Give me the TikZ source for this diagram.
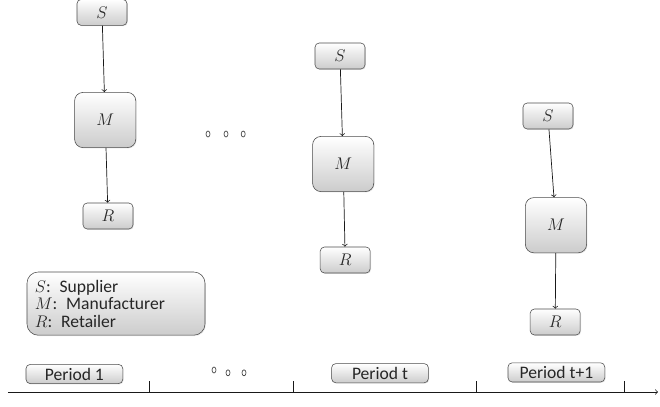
\documentclass[tikz,border=0pt]{standalone}
\usepackage{fontspec}
\setmainfont{Carlito}
\usetikzlibrary{shadows}

\begin{document}
\begin{tikzpicture}[
    box/.style={draw=gray!60!black, rounded corners=3pt, top color=white, bottom color=gray!40,
        drop shadow={opacity=0.2, shadow xshift=0.6pt, shadow yshift=-0.6pt},
        inner sep=0pt, text=black!85, font=\fontsize{12.5}{12.4}\selectfont},
    smallbox/.style={box, minimum width=1.25cm, minimum height=0.65cm},
    bigbox/.style={box, rounded corners=6pt, minimum width=1.53cm, minimum height=1.38cm},
    periodbox/.style={box, minimum width=2.42cm, minimum height=0.48cm},
    supply/.style={->, draw=gray!20!black, line width=0.5pt},
    gap/.style={draw=gray!60!black, line width=0.5pt, x radius=0.05, y radius=0.075}
  ]

    \useasboundingbox (0,0) rectangle (16.5,-10.15);

    % 第 1 期
    \node[smallbox] (S1) at (2.55,-0.31) {$S$};
    \node[bigbox]   (M1) at (2.63,-3.0)  {$M$};
    \node[smallbox] (R1) at (2.70,-5.4)  {$R$};
    \draw[supply] (S1) -- (M1);
    \draw[supply] (M1) -- (R1);

    % 第 t 期
    \node[smallbox] (St) at (8.5,-1.4)   {$S$};
    \node[bigbox]   (Mt) at (8.58,-4.1)  {$M$};
    \node[smallbox] (Rt) at (8.63,-6.5)  {$R$};
    \draw[supply] (St) -- (Mt);
    \draw[supply] (Mt) -- (Rt);

    % 第 t+1 期
    \node[smallbox] (Sn) at (13.7,-2.9)  {$S$};
    \node[bigbox]   (Mn) at (13.9,-5.63) {$M$};
    \node[smallbox] (Rn) at (13.88,-8.05) {$R$};
    \draw[supply] (Sn) -- (Mn);
    \draw[supply] (Mn) -- (Rn);

    % 省略号
    \draw[gap] (5.2,-3.35) ellipse[];
    \draw[gap] (5.65,-3.35) ellipse[];
    \draw[gap] (6.08,-3.35) ellipse[];
    \draw[gap] (5.35,-9.25) ellipse[];
    \draw[gap] (5.7,-9.32) ellipse[];
    \draw[gap] (6.1,-9.32) ellipse[];

    % 图例
    \node[box, rounded corners=8pt, minimum width=4.45cm, minimum height=1.58cm,
          text width=4.05cm, align=left] (legend) at (2.9,-7.59)
          {$S$: Supplier\\ $M$: Manufacturer\\ $R$: Retailer};

    % 时间轴
    \node[periodbox] (P1) at (1.86,-9.35)  {Period 1};
    \node[periodbox] (Pt) at (9.5,-9.33)   {Period t};
    \node[periodbox] (Pn) at (13.91,-9.31) {Period t+1};
    \coordinate (axisL) at (0.2,-9.8);
    \coordinate (axisR) at (16.45,-9.8);
    \draw[->, gray!20!black, line width=0.5pt] (axisL) -- (axisR);
    \foreach \x in {3.73,7.33,11.9,15.6}
        \draw[gray!20!black, line width=0.5pt] (\x,-9.8) -- (\x,-9.52);

\end{tikzpicture}
\end{document}
